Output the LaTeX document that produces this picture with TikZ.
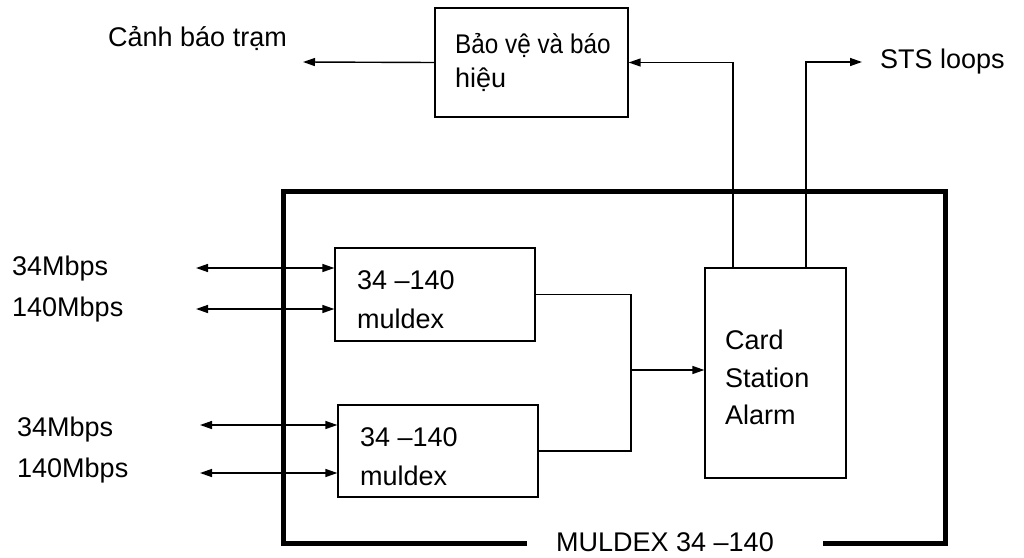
\documentclass[tikz,border=0pt]{standalone}
\usepackage{fontspec}
\setmainfont{Liberation Sans}
\usetikzlibrary{arrows.meta}
\begin{document}
\begin{tikzpicture}[x=1pt,y=-1pt,
  box/.style={draw,line width=1.3pt,inner sep=0pt},
  lbl/.style={anchor=west,inner sep=0pt,font=\fontsize{27}{37}\selectfont,align=left},
  conn/.style={line width=1.4pt},
  arr/.style={conn,-{Triangle[length=12pt,width=8pt]}},
  barr/.style={conn,{Triangle[length=12pt,width=8pt]}-{Triangle[length=12pt,width=8pt]}},
  frame/.style={line width=5pt}]
\useasboundingbox (0,0) rectangle (1024,557);
% boxes
\node[box,minimum width=193pt,minimum height=109pt] (top) at (531.5,62.5) {};
\node[box,minimum width=200pt,minimum height=93pt] (m1) at (435,294.5) {};
\node[box,minimum width=200pt,minimum height=92pt] (m2) at (438,451) {};
\node[box,minimum width=141pt,minimum height=210pt] (card) at (775.5,373) {};
% texts
\node[lbl] (toptxt) at (455,45) {\scalebox{0.9}[1]{Bảo vệ và báo}};
\node[lbl] (toptxt2) at (455,80) {hiệu};
\node[lbl] (m1a) at (357,280) {34 –140};
\node[lbl] (m1b) at (357,319) {muldex};
\node[lbl] (m2a) at (360,437) {34 –140};
\node[lbl] (m2b) at (360,476) {muldex};
\node[lbl] (c1) at (725,340) {Card};
\node[lbl] (c2) at (725,378) {Station};
\node[lbl] (c3) at (725,415) {Alarm};
\node[lbl] (alarm) at (108,38) {Cảnh báo trạm};
\node[lbl] (sts) at (880,62) {STS loops};
\node[lbl] (a1) at (12,269) {34Mbps};
\node[lbl] (a2) at (12,310) {140Mbps};
\node[lbl] (b1) at (17,430) {34Mbps};
\node[lbl] (b2) at (17,471) {140Mbps};
\node[lbl,anchor=base] (mux) at (665,551) {MULDEX 34 –140};
% outer frame
\draw[frame] (527,543) -- (283,543) -- (283,191) -- (945,191) -- (945,543) -- (823,543);
% coordinates
\coordinate (e1) at (196,268);
\coordinate (e2) at (196,309);
\coordinate (e3) at (200,425);
\coordinate (e4) at (200,473);
\coordinate (ca) at (303,62);
\coordinate (jn) at (631,370);
\coordinate (stsend) at (862,62);
% connectors
\draw[barr] (e1) -- (e1 -| m1.west);
\draw[barr] (e2) -- (e2 -| m1.west);
\draw[barr] (e3) -- (e3 -| m2.west);
\draw[barr] (e4) -- (e4 -| m2.west);
\draw[arr] (top.west) -- (ca);
\draw[arr] ([xshift=-42.5pt]card.north) |- (top.east);
\draw[arr] ([xshift=30.5pt]card.north) |- (stsend);
\draw[conn] (m1.east) -| (jn |- m2.east) -- (m2.east);
\draw[arr] (jn) -- (jn -| card.west);
\end{tikzpicture}
\end{document}
